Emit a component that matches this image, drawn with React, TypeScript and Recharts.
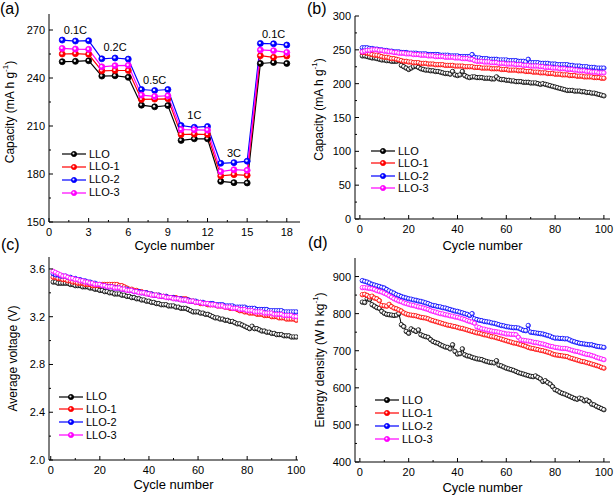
import React from 'react';
import { LineChart, Line, XAxis, YAxis, ReferenceDot } from 'recharts';

const seriesNames = ['LLO', 'LLO-1', 'LLO-2', 'LLO-3'];
const seriesKeys = ['llo', 'llo1', 'llo2', 'llo3'];
const seriesColors = ['#000000', '#ff0000', '#0000ff', '#ff00ff'];
const seriesTints = ['#8a8a8a', '#ff8080', '#8080ff', '#ff8aff'];

// (a) rate capability
const rateCycles = [1, 2, 3, 4, 5, 6, 7, 8, 9, 10, 11, 12, 13, 14, 15, 16, 17, 18];
const rateLLO = [250.2, 250.4, 250.8, 241.2, 241.4, 240.4, 223, 222, 222.8, 201, 202, 202, 175.4, 174.6, 174.4, 249.1, 249.7, 249.1];
const rateLLO1 = [255, 255.2, 254.8, 244.5, 244.7, 244.7, 226.6, 226.8, 227, 204.7, 204.9, 204.7, 178.8, 179.6, 179.2, 253.9, 252.9, 253.7];
const rateLLO2 = [263.7, 263.1, 263.3, 252, 252.5, 251.8, 232.8, 232.2, 232.8, 210.3, 209.2, 209.7, 186.7, 187.1, 188, 261.6, 261.4, 260.6];
const rateLLO3 = [258.5, 258.1, 257.9, 247, 247.7, 247.9, 229.3, 228.5, 228.9, 207.8, 207.6, 207.4, 181.5, 182.7, 182.3, 257.5, 257.1, 256];
const rateLabels = ['0.1C', '0.2C', '0.5C', '1C', '3C', '0.1C'];
const rateLabelCycles = [2, 5, 8, 11, 14, 17];
const rateLabelLevels = [270, 259.4, 238.7, 216.9, 193.3, 267.5];

// (b)-(d) cycling, 100 cycles
const cycles = Array.from({ length: 100 }, (_, i) => i + 1);

const capLLO = [
  241, 241, 240, 239, 238, 238, 237, 236, 235, 235,
  234, 234, 233, 233, 233, 234, 227, 225, 223, 221,
  223, 225, 226, 224, 222, 221, 220, 220, 219, 219,
  218, 218, 217, 216, 215, 215, 214, 218, 213, 212,
  213, 218, 212, 210, 209, 210, 210, 209, 209, 209,
  208, 208, 208, 207, 207, 210, 207, 206, 206, 205,
  205, 204, 204, 203, 203, 203, 202, 202, 202, 201,
  201, 201, 200, 199, 200, 199, 198, 197, 196, 195,
  194, 193, 192, 191, 190, 190, 190, 189, 189, 189,
  188, 188, 187, 187, 186, 186, 185, 184, 183, 182,
];
const capLLO1 = [
  246, 246, 245, 244, 243, 242, 242, 241, 240, 239,
  239, 238, 237, 237, 236, 235, 234, 233, 233, 232,
  232, 231, 231, 231, 230, 230, 230, 229, 229, 229,
  228, 228, 228, 228, 227, 227, 227, 227, 226, 226,
  226, 226, 225, 225, 225, 225, 224, 224, 224, 223,
  223, 223, 223, 222, 222, 222, 222, 221, 221, 221,
  220, 220, 220, 220, 219, 219, 219, 218, 218, 218,
  217, 217, 217, 216, 216, 216, 215, 215, 215, 214,
  214, 214, 213, 213, 213, 212, 212, 212, 211, 211,
  211, 210, 210, 210, 210, 209, 209, 209, 208, 208,
];
const capLLO2 = [
  253, 253, 253, 252, 252, 251, 251, 250, 250, 249,
  249, 248, 248, 247, 247, 247, 246, 246, 246, 245,
  245, 245, 245, 244, 244, 244, 244, 243, 243, 243,
  243, 243, 242, 242, 242, 242, 241, 241, 241, 241,
  240, 240, 240, 240, 240, 243, 239, 238, 238, 237,
  237, 237, 236, 236, 236, 236, 235, 235, 235, 235,
  234, 234, 234, 234, 233, 233, 233, 232, 236, 231,
  231, 231, 231, 230, 230, 230, 230, 229, 229, 229,
  228, 228, 228, 228, 228, 227, 227, 226, 226, 226,
  225, 225, 225, 224, 224, 224, 223, 223, 223, 223,
];
const capLLO3 = [
  247, 248, 249, 249, 250, 250, 250, 249, 249, 248,
  248, 247, 247, 246, 246, 245, 245, 245, 244, 244,
  244, 243, 243, 243, 242, 242, 242, 241, 241, 241,
  240, 240, 240, 240, 239, 239, 239, 239, 238, 238,
  238, 237, 237, 237, 236, 236, 234, 233, 233, 233,
  232, 232, 232, 231, 231, 231, 230, 230, 230, 229,
  229, 229, 229, 228, 228, 228, 227, 227, 227, 226,
  226, 226, 226, 225, 225, 224, 224, 224, 223, 223,
  223, 222, 222, 222, 221, 221, 221, 220, 220, 219,
  219, 219, 218, 218, 217, 217, 217, 216, 216, 216,
];

const voltLLO = [
  3.49, 3.49, 3.48, 3.48, 3.48, 3.48, 3.48, 3.47, 3.47, 3.46,
  3.46, 3.46, 3.45, 3.45, 3.45, 3.44, 3.44, 3.43, 3.43, 3.42,
  3.42, 3.41, 3.41, 3.40, 3.40, 3.39, 3.39, 3.39, 3.38, 3.38,
  3.37, 3.37, 3.36, 3.36, 3.35, 3.35, 3.34, 3.34, 3.33, 3.33,
  3.32, 3.32, 3.31, 3.31, 3.30, 3.30, 3.30, 3.29, 3.29, 3.29,
  3.28, 3.28, 3.27, 3.27, 3.27, 3.26, 3.25, 3.24, 3.24, 3.24,
  3.23, 3.23, 3.22, 3.22, 3.21, 3.20, 3.19, 3.19, 3.18, 3.18,
  3.17, 3.17, 3.16, 3.16, 3.15, 3.14, 3.14, 3.13, 3.12, 3.11,
  3.10, 3.12, 3.10, 3.10, 3.09, 3.08, 3.08, 3.07, 3.07, 3.06,
  3.06, 3.05, 3.05, 3.05, 3.04, 3.04, 3.04, 3.03, 3.03, 3.03,
];
const voltLLO1 = [
  3.53, 3.53, 3.52, 3.52, 3.51, 3.51, 3.50, 3.50, 3.49, 3.49,
  3.48, 3.48, 3.48, 3.47, 3.47, 3.47, 3.46, 3.46, 3.46, 3.46,
  3.47, 3.47, 3.47, 3.47, 3.47, 3.47, 3.47, 3.46, 3.46, 3.45,
  3.44, 3.43, 3.43, 3.42, 3.42, 3.41, 3.41, 3.40, 3.40, 3.39,
  3.39, 3.38, 3.38, 3.38, 3.37, 3.37, 3.37, 3.36, 3.36, 3.36,
  3.36, 3.35, 3.35, 3.35, 3.35, 3.34, 3.33, 3.33, 3.32, 3.32,
  3.31, 3.31, 3.31, 3.30, 3.30, 3.30, 3.30, 3.29, 3.29, 3.29,
  3.28, 3.28, 3.27, 3.27, 3.27, 3.26, 3.25, 3.25, 3.24, 3.24,
  3.23, 3.23, 3.23, 3.22, 3.22, 3.22, 3.21, 3.21, 3.21, 3.20,
  3.20, 3.20, 3.19, 3.19, 3.19, 3.18, 3.18, 3.18, 3.18, 3.17,
];
const voltLLO2 = [
  3.56, 3.55, 3.55, 3.54, 3.54, 3.54, 3.53, 3.53, 3.52, 3.52,
  3.51, 3.51, 3.50, 3.50, 3.49, 3.49, 3.48, 3.48, 3.47, 3.47,
  3.46, 3.46, 3.45, 3.45, 3.45, 3.44, 3.44, 3.44, 3.43, 3.43,
  3.43, 3.42, 3.42, 3.41, 3.41, 3.41, 3.40, 3.40, 3.40, 3.39,
  3.39, 3.38, 3.38, 3.38, 3.37, 3.37, 3.37, 3.36, 3.36, 3.36,
  3.35, 3.35, 3.35, 3.34, 3.34, 3.34, 3.33, 3.33, 3.33, 3.32,
  3.32, 3.32, 3.31, 3.31, 3.31, 3.31, 3.30, 3.30, 3.30, 3.30,
  3.29, 3.29, 3.29, 3.29, 3.28, 3.28, 3.28, 3.28, 3.28, 3.27,
  3.27, 3.27, 3.27, 3.26, 3.26, 3.26, 3.26, 3.26, 3.25, 3.25,
  3.25, 3.25, 3.25, 3.25, 3.24, 3.24, 3.24, 3.24, 3.24, 3.24,
];
const voltLLO3 = [
  3.58, 3.57, 3.56, 3.55, 3.54, 3.54, 3.53, 3.52, 3.52, 3.51,
  3.51, 3.50, 3.50, 3.49, 3.49, 3.48, 3.48, 3.47, 3.47, 3.47,
  3.46, 3.46, 3.45, 3.45, 3.45, 3.44, 3.44, 3.44, 3.43, 3.43,
  3.42, 3.42, 3.42, 3.41, 3.41, 3.40, 3.40, 3.40, 3.39, 3.39,
  3.38, 3.38, 3.38, 3.37, 3.37, 3.37, 3.36, 3.36, 3.36, 3.35,
  3.35, 3.35, 3.34, 3.34, 3.34, 3.33, 3.33, 3.33, 3.32, 3.32,
  3.32, 3.31, 3.31, 3.31, 3.30, 3.30, 3.30, 3.29, 3.29, 3.29,
  3.28, 3.28, 3.28, 3.27, 3.27, 3.27, 3.26, 3.26, 3.26, 3.25,
  3.25, 3.25, 3.24, 3.24, 3.24, 3.24, 3.23, 3.23, 3.23, 3.23,
  3.22, 3.22, 3.22, 3.22, 3.21, 3.21, 3.21, 3.21, 3.20, 3.20,
];

const energyLLO = [
  831, 830, 840, 838, 824, 820, 816, 814, 806, 801,
  798, 797, 796, 795, 796, 800, 770, 765, 752, 747,
  759, 755, 752, 756, 743, 740, 738, 736, 730, 725,
  722, 720, 716, 713, 710, 709, 705, 716, 698, 691,
  692, 705, 689, 686, 685, 682, 680, 678, 677, 676,
  673, 671, 669, 668, 667, 673, 661, 659, 656, 653,
  651, 649, 647, 644, 641, 639, 637, 635, 633, 631,
  630, 632, 628, 624, 617, 619, 614, 610, 603, 595,
  592, 588, 585, 583, 580, 577, 574, 571, 569, 572,
  570, 565, 567, 563, 556, 554, 550, 547, 544, 541,
];
const energyLLO1 = [
  851, 852, 849, 845, 847, 842, 840, 835, 822, 821,
  820, 825, 819, 815, 813, 810, 807, 802, 799, 797,
  796, 795, 794, 792, 790, 789, 788, 786, 783, 781,
  779, 777, 775, 773, 771, 769, 768, 766, 765, 763,
  761, 760, 758, 756, 754, 752, 750, 748, 747, 745,
  743, 742, 740, 738, 737, 735, 733, 731, 729, 727,
  725, 723, 721, 720, 718, 716, 714, 712, 709, 707,
  706, 704, 703, 701, 700, 698, 696, 694, 691, 689,
  688, 687, 686, 685, 684, 681, 679, 677, 675, 673,
  671, 670, 668, 666, 664, 662, 660, 658, 655, 653,
];
const energyLLO2 = [
  889, 887, 885, 882, 879, 877, 875, 873, 871, 869,
  865, 861, 858, 855, 851, 849, 846, 844, 842, 840,
  839, 837, 836, 834, 833, 831, 829, 827, 824, 822,
  821, 819, 818, 816, 815, 813, 811, 809, 807, 806,
  804, 802, 800, 798, 795, 800, 786, 784, 782, 781,
  779, 778, 777, 775, 774, 772, 770, 768, 767, 765,
  764, 763, 762, 762, 761, 758, 755, 754, 768, 750,
  749, 748, 747, 746, 745, 743, 741, 739, 736, 734,
  734, 733, 733, 732, 732, 729, 726, 724, 722, 720,
  719, 718, 717, 716, 716, 714, 712, 711, 710, 709,
];
const energyLLO3 = [
  870, 870, 869, 868, 867, 865, 862, 860, 858, 855,
  852, 848, 844, 840, 837, 834, 832, 829, 827, 825,
  823, 822, 820, 818, 817, 815, 813, 811, 808, 806,
  804, 802, 800, 799, 797, 796, 794, 793, 791, 790,
  788, 786, 784, 781, 779, 777, 774, 764, 762, 759,
  758, 756, 755, 753, 752, 751, 750, 748, 747, 745,
  745, 744, 744, 743, 736, 729, 728, 727, 726, 725,
  723, 722, 721, 719, 718, 716, 714, 712, 711, 709,
  708, 707, 706, 706, 705, 703, 701, 699, 698, 696,
  694, 692, 690, 689, 687, 685, 682, 680, 678, 676,
];

// tick labels
const rateXTicks = [0, 3, 6, 9, 12, 15, 18];
const rateYTicks = [150, 180, 210, 240, 270];
const cycleXTicks = [0, 20, 40, 60, 80, 100];
const capYTicks = [0, 50, 100, 150, 200, 250, 300];
const voltYTicks = [2.0, 2.4, 2.8, 3.2, 3.6];
const energyYTicks = [400, 500, 600, 700, 800, 900];

const mids = (m: number[]) => m.slice(1).map((v, i) => (v + m[i]) / 2);
const isMajor = (m: number[], v: number) => m.some((t) => Math.abs(t - v) < 1e-6);
const fmtInt = (v: number) => String(v);
const fmt1 = (v: number) => v.toFixed(1);

const buildRows = (xs: number[], ys: number[][]) =>
  xs.map((c, i) => ({ cycle: c, llo: ys[0][i], llo1: ys[1][i], llo2: ys[2][i], llo3: ys[3][i] }));

// shiny sphere marker: coloured disc with a white highlight
const Marker = ({ cx, cy, r, idx, solid }: any) => {
  if (cx == null || cy == null) return null;
  const color = seriesColors[idx];
  return (
    <g>
      <circle cx={cx} cy={cy} r={r} fill={solid ? color : seriesTints[idx]} stroke={color} strokeWidth={0.8} />
      <circle cx={cx - r * 0.2} cy={cy - r * 0.2} r={r * (solid ? 0.4 : 0.55)} fill="#fff" opacity={solid ? 0.9 : 1} />
    </g>
  );
};

const XTick = (props: any) => {
  const { x, y, payload, majors, fmt } = props;
  const major = isMajor(majors, payload.value);
  return (
    <g>
      <line x1={x} x2={x} y1={y} y2={y - (major ? 4 : 2)} stroke="#000" strokeWidth={1} />
      {major && (
        <text x={x} y={y + 14} textAnchor="middle" fontSize={11} fill="#000">
          {fmt(payload.value)}
        </text>
      )}
    </g>
  );
};

const YTick = (props: any) => {
  const { x, y, payload, majors, fmt } = props;
  const major = isMajor(majors, payload.value);
  return (
    <g>
      <line x1={x} x2={x + (major ? 4 : 2)} y1={y} y2={y} stroke="#000" strokeWidth={1} />
      {major && (
        <text x={x - 4} y={y} textAnchor="end" dominantBaseline="central" fontSize={11} fill="#000">
          {fmt(payload.value)}
        </text>
      )}
    </g>
  );
};

const YTitle = ({ px, py, text, sup }: any) => (
  <text x={px} y={py} transform={`rotate(-90 ${px} ${py})`} textAnchor="middle" dominantBaseline="central" fontSize={12} fill="#000">
    {text}
    {sup && <tspan baselineShift="super" fontSize={8}>{sup}</tspan>}
    {sup && <tspan>)</tspan>}
  </text>
);

const XTitle = ({ px, py }: any) => (
  <text x={px} y={py} textAnchor="middle" fontSize={13} fill="#000">Cycle number</text>
);

type PanelProps = {
  left: number; top: number; width: number; height: number;
  plot: { l: number; t: number; r: number; b: number };
  xDomain: [number, number]; yDomain: [number, number];
  xMajor: number[]; yMajor: number[]; yFmt: (v: number) => string;
  rows: any[]; dotR: number; lineW: number; solid: boolean;
  yTitle: string; ySup?: string; yTitleX: number; yTitleShift: number; xTitleDy: number;
  legend: { x: number; y: number; rowH: number };
  letter: string; letterPos: { x: number; y: number };
  children?: React.ReactNode;
};

const Panel = (p: PanelProps) => {
  const { plot } = p;
  const xTicks = [...p.xMajor, ...mids(p.xMajor)].sort((a, b) => a - b);
  const yTicks = [...p.yMajor, ...mids(p.yMajor)].sort((a, b) => a - b);
  return (
    <div style={{ position: 'absolute', left: p.left, top: p.top, width: p.width, height: p.height }}>
      <LineChart
        width={p.width}
        height={p.height}
        data={p.rows}
        margin={{ top: plot.t, right: p.width - plot.r, bottom: 0, left: 0 }}
      >
        <XAxis
          dataKey="cycle"
          type="number"
          domain={p.xDomain}
          allowDataOverflow
          ticks={xTicks}
          interval={0}
          tickLine={false}
          tickSize={0}
          tickMargin={0}
          height={p.height - plot.b}
          axisLine={{ stroke: '#000' }}
          tick={(t: any) => <XTick {...t} majors={p.xMajor} fmt={fmtInt} />}
          label={<XTitle px={(plot.l + plot.r) / 2} py={plot.b + p.xTitleDy} />}
        />
        <XAxis xAxisId="top" orientation="top" dataKey="cycle" type="number" domain={p.xDomain} allowDataOverflow height={0} tick={false} tickLine={false} axisLine={{ stroke: '#000' }} />
        <YAxis
          type="number"
          domain={p.yDomain}
          allowDataOverflow
          ticks={yTicks}
          interval={0}
          tickLine={false}
          tickSize={0}
          tickMargin={0}
          width={plot.l}
          axisLine={{ stroke: '#000' }}
          tick={(t: any) => <YTick {...t} majors={p.yMajor} fmt={p.yFmt} />}
          label={<YTitle px={p.yTitleX} py={(plot.t + plot.b) / 2 + p.yTitleShift} text={p.yTitle} sup={p.ySup} />}
        />
        <YAxis yAxisId="right" orientation="right" type="number" domain={p.yDomain} allowDataOverflow width={0} tick={false} tickLine={false} axisLine={{ stroke: '#000' }} />
        {seriesKeys.map((k, i) => (
          <Line
            key={k}
            dataKey={k}
            name={seriesNames[i]}
            type="linear"
            stroke={seriesColors[i]}
            strokeWidth={p.lineW}
            dot={(d: any) => <Marker key={`${k}-${d.index}`} cx={d.cx} cy={d.cy} r={p.dotR} idx={i} solid={p.solid} />}
            activeDot={false}
            isAnimationActive={false}
          />
        ))}
        {p.children}
      </LineChart>
      <div style={{ position: 'absolute', left: p.legend.x, top: p.legend.y }}>
        {seriesNames.map((n, i) => (
          <div key={n} style={{ display: 'flex', alignItems: 'center', height: p.legend.rowH }}>
            <svg width={26} height={10}>
              <line x1={0} x2={24} y1={5} y2={5} stroke={seriesColors[i]} strokeWidth={1.2} />
              <Marker cx={12} cy={5} r={2.6} idx={i} solid />
            </svg>
            <span style={{ fontSize: 11, marginLeft: 1, lineHeight: `${p.legend.rowH}px` }}>{n}</span>
          </div>
        ))}
      </div>
      <div style={{ position: 'absolute', left: p.letterPos.x, top: p.letterPos.y, fontSize: 16 }}>{p.letter}</div>
    </div>
  );
};

const App = () => {
  const rateRows = buildRows(rateCycles, [rateLLO, rateLLO1, rateLLO2, rateLLO3]);
  const capRows = buildRows(cycles, [capLLO, capLLO1, capLLO2, capLLO3]);
  const voltRows = buildRows(cycles, [voltLLO, voltLLO1, voltLLO2, voltLLO3]);
  const energyRows = buildRows(cycles, [energyLLO, energyLLO1, energyLLO2, energyLLO3]);

  return (
    <div style={{ position: 'absolute', left: 0, top: 0, width: 614, height: 497, background: '#fff', overflow: 'hidden', fontFamily: '"Liberation Sans", Arial, sans-serif', color: '#000' }}>
      <Panel
        left={0} top={0} width={310} height={262}
        plot={{ l: 49, t: 14, r: 300, b: 222 }}
        xDomain={[0, 19]} yDomain={[150, 280]}
        xMajor={rateXTicks} yMajor={rateYTicks} yFmt={fmtInt}
        rows={rateRows} dotR={3} lineW={1.2} solid
        yTitle="Capacity (mA h g" ySup="-1" yTitleX={10} yTitleShift={-6} xTitleDy={28}
        legend={{ x: 62, y: 147.5, rowH: 12.9 }}
        letter="(a)" letterPos={{ x: 0, y: 0 }}
      >
        {rateLabels.map((t, i) => (
          <ReferenceDot
            key={`rl-${i}`}
            x={rateLabelCycles[i]}
            y={rateLabelLevels[i]}
            r={0}
            fill="none"
            stroke="none"
            label={{ value: t, position: 'center', fontSize: 11, fill: '#000' }}
          />
        ))}
      </Panel>

      <Panel
        left={305} top={0} width={309} height={262}
        plot={{ l: 50, t: 16, r: 305, b: 219 }}
        xDomain={[-2, 102.5]} yDomain={[0, 300]}
        xMajor={cycleXTicks} yMajor={capYTicks} yFmt={fmtInt}
        rows={capRows} dotR={2.2} lineW={1} solid={false}
        yTitle="Capacity (mA h g" ySup="-1" yTitleX={14} yTitleShift={-8} xTitleDy={31}
        legend={{ x: 66, y: 144.5, rowH: 12.5 }}
        letter="(b)" letterPos={{ x: 2, y: 0 }}
      />

      <Panel
        left={0} top={240} width={310} height={257}
        plot={{ l: 49, t: 17, r: 298, b: 220 }}
        xDomain={[-0.7, 100.7]} yDomain={[2.0, 3.7]}
        xMajor={cycleXTicks} yMajor={voltYTicks} yFmt={fmt1}
        rows={voltRows} dotR={2.2} lineW={1} solid={false}
        yTitle="Average voltage (V)" yTitleX={13} yTitleShift={0} xTitleDy={29}
        legend={{ x: 59, y: 150.3, rowH: 12.8 }}
        letter="(c)" letterPos={{ x: 1, y: -4 }}
      />

      <Panel
        left={305} top={240} width={309} height={257}
        plot={{ l: 50, t: 18, r: 305, b: 222 }}
        xDomain={[-2, 102.5]} yDomain={[400, 950]}
        xMajor={cycleXTicks} yMajor={energyYTicks} yFmt={fmtInt}
        rows={energyRows} dotR={2.2} lineW={1} solid={false}
        yTitle="Energy density (W h kg" ySup="-1" yTitleX={15} yTitleShift={0} xTitleDy={30}
        legend={{ x: 70, y: 153.5, rowH: 13 }}
        letter="(d)" letterPos={{ x: 3, y: -6 }}
      />
    </div>
  );
};

export default App;
